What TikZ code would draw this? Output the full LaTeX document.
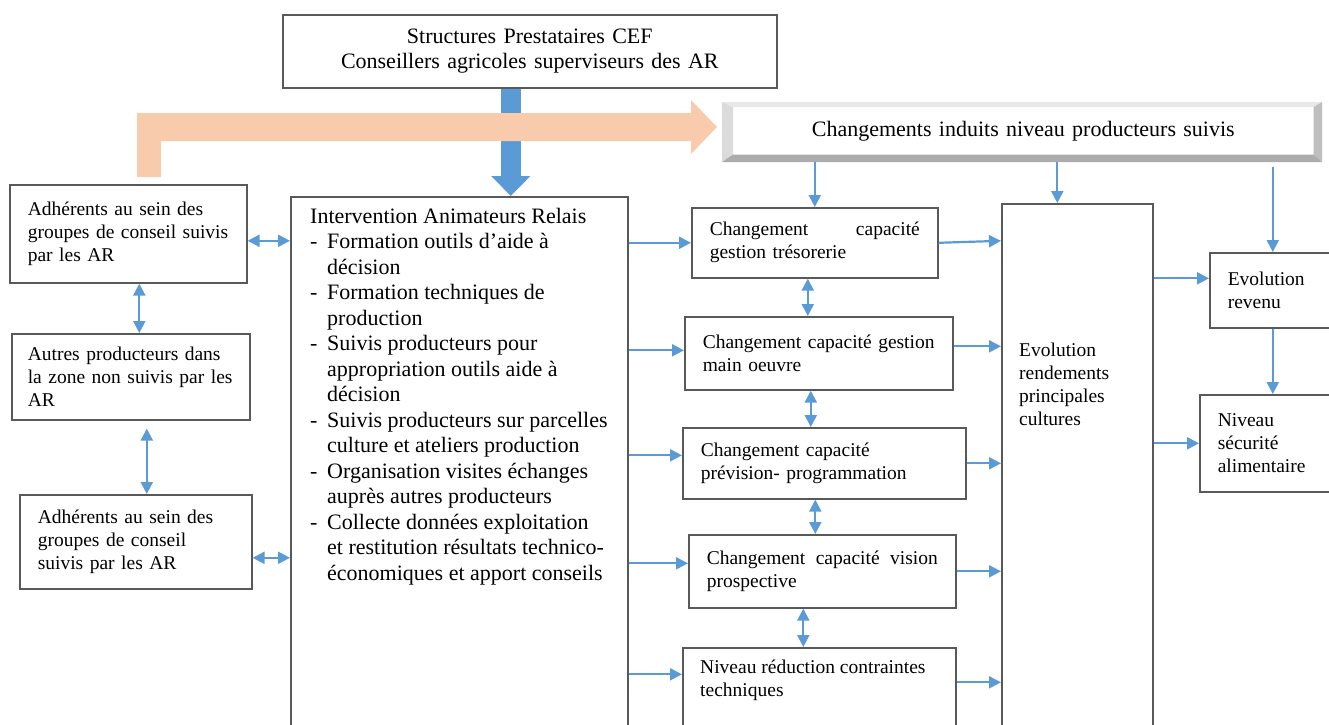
\documentclass[tikz,border=0pt]{standalone}
\usepackage{fontspec}
\setmainfont{Liberation Serif}
\usetikzlibrary{positioning, arrows.meta}
\definecolor{arrowblue}{HTML}{5B9BD5}
\definecolor{bandorange}{HTML}{F8CBAD}
\tikzset{
box/.style={draw=black!65, line width=1.6pt, anchor=north west, inner xsep=18pt, inner ysep=0pt, align=left, font=\fontsize{19.5}{23}\selectfont},
bigbox/.style={box, font=\fontsize{22}{25.5}\selectfont},
plain/.style={anchor=north west, inner sep=0pt, align=left, font=\fontsize{19.5}{23}\selectfont},
link/.style={draw=arrowblue, line width=2.2pt, -{Triangle[length=12pt,width=12pt]}},
twoway/.style={link, {Triangle[length=12pt,width=12pt]}-{Triangle[length=12pt,width=12pt]}},
bigarrow/.style={draw=arrowblue, line width=20pt, -{Triangle[length=20pt,width=38pt]}},
band/.style={fill=bandorange},
}

\begin{document}
\begin{tikzpicture}[x=1pt, y=-1pt]
    \useasboundingbox (0,0) rectangle (1329,724);
    \clip (0,0) rectangle (1329,724);

    %boxes at the top
    \node[bigbox, text width=458pt, minimum height=73pt, align=center] (prest) at (282,14) {Structures Prestataires CEF\\Conseillers agricoles superviseurs des AR};
    \node[bigbox, draw=none, fill=white, text width=543pt, minimum height=46pt, align=center] (chg) at (733,107) {Changements induits niveau producteurs suivis};
    \coordinate (chgNW) at (722,102);
    \coordinate (chgNE) at (1322,102);
    \coordinate (chgSE) at (1322,162);
    \coordinate (chgSW) at (722,162);
    \fill[gray!18] (chgNW)--(chgNE)--(chg.north east)--(chg.north west)--cycle;
    \fill[gray!28] (chgNW)--(chg.north west)--(chg.south west)--(chgSW)--cycle;
    \fill[gray!50] (chgNE)--(chgSE)--(chg.south east)--(chg.north east)--cycle;
    \fill[gray!65] (chgSW)--(chg.south west)--(chg.south east)--(chgSE)--cycle;

    %producers on the left
    \node[box, text width=201pt, minimum height=98pt] (adh1) at (9,184) {Adhérents au sein des\\groupes de conseil suivis\\par les AR};
    \node[box, inner xsep=16pt, text width=206pt, minimum height=86pt] (autres) at (11,333) {Autres producteurs dans\\la zone non suivis par les\\AR};
    \node[box, text width=196pt, minimum height=94pt] (adh2) at (19,494) {Adhérents au sein des\\groupes de conseil\\suivis par les AR};

    %intervention
    \node[box, minimum width=337pt, minimum height=534pt] (interv) at (290,196) {};
    \node[plain, font=\fontsize{22}{25.5}\selectfont] (intervtext) at (310,205) {%
    \begin{tabular}{@{}p{17pt}@{}l@{}}
    \multicolumn{2}{@{}l@{}}{Intervention Animateurs Relais}\\
    - & Formation outils d’aide à\\
      & décision\\
    - & Formation techniques de\\
      & production\\
    - & Suivis producteurs pour\\
      & appropriation outils aide à\\
      & décision\\
    - & Suivis producteurs sur parcelles\\
      & culture et ateliers production\\
    - & Organisation visites échanges\\
      & auprès autres producteurs\\
    - & Collecte données exploitation\\
      & et restitution résultats technico-\\
      & économiques et apport conseils
    \end{tabular}};

    %changes in the middle
    \node[box, text width=210pt, minimum height=70pt] (treso) at (691,207) {Changement\hfill capacité\\gestion trésorerie};
    \node[box, text width=232pt, minimum height=73pt] (mo) at (684,316) {Changement capacité gestion\\main oeuvre};
    \node[box, text width=247pt, minimum height=71pt] (prev) at (682,427) {Changement capacité\\prévision- programmation};
    \node[box, text width=231pt, minimum height=73pt] (vision) at (688,534) {Changement\hfill capacité\hfill vision\\prospective};
    \node[box, minimum width=273pt, minimum height=83pt] (contr) at (682,647) {};
    \node[plain] (contrtext) at (700,660) {Niveau réduction contraintes\\techniques};

    %results on the right
    \node[box, minimum width=151pt, minimum height=527pt] (rdt) at (1001,203) {};
    \node[plain] (rdttext) at (1019,343) {Evolution\\rendements\\principales\\cultures};
    \node[box, text width=90pt, minimum height=75pt] (revenu) at (1209,252) {Evolution\\revenu};
    \node[box, text width=100pt, minimum height=97pt] (secu) at (1199,394) {Niveau\\sécurité\\alimentaire};

    %thick arrows
    \draw[bigarrow] ([xshift=-19pt]prest.south)--([xshift=-19pt]prest.south |- interv.north);
    \fill[band] (137,177)--(137,113)--(691,113)--(691,100)--(717,127)--(691,154)--(691,141)--(161,141)--(161,177)--cycle;

    %from the bevelled box
    \draw[link] (treso.north |- chgSW)--(treso.north);
    \draw[link] ([xshift=-20pt]rdt.north |- chgSW)--([xshift=-20pt]rdt.north);
    \draw[link] ([yshift=-5pt]revenu.north |- chgSE)--(revenu.north);

    %left side
    \draw[twoway] ([yshift=-7pt]adh1.east)--([yshift=-7pt]adh1.east -| interv.west);
    \draw[twoway] ([yshift=-16pt]adh2.east)--([yshift=-16pt]adh2.east -| interv.west);
    \draw[twoway] ([xshift=11pt]adh1.south)--([xshift=11pt]adh1.south |- autres.north);
    \draw[twoway] ([xshift=16pt, yshift=-8pt]autres.south)--([xshift=16pt]autres.south |- adh2.north);

    %intervention to changes
    \draw[link] (interv.east |- treso.west)--(treso.west);
    \draw[link] ([yshift=3pt]interv.east |- mo.west)--([yshift=3pt]mo.west);
    \draw[link] ([yshift=8pt]interv.east |- prev.west)--([yshift=8pt]prev.west);
    \draw[link] ([yshift=8pt]interv.east |- vision.west)--([yshift=8pt]vision.west);
    \draw[link] ([yshift=15pt]interv.east |- contr.west)--([yshift=15pt]contr.west);

    % vertical links between changes
    \draw[twoway] ([xshift=-7pt]treso.south)--([xshift=-7pt]treso.south |- mo.north);
    \draw[twoway] ([xshift=-8pt]mo.south)--([xshift=-8pt]mo.south |- prev.north);
    \draw[twoway] ([xshift=-9pt]prev.south)--([xshift=-9pt]prev.south |- vision.north);
    \draw[twoway] ([xshift=-19pt]vision.south)--([xshift=-19pt]vision.south |- contr.north);

    %changes to yields
    \draw[link] (treso.east)--([yshift=2pt]treso.east -| rdt.west);
    \draw[link] ([yshift=7pt]mo.east)--([yshift=7pt]mo.east -| rdt.west);
    \draw[link] (prev.east)--(prev.east -| rdt.west);
    \draw[link] (vision.east)--(vision.east -| rdt.west);
    \draw[link] ([yshift=7pt]contr.east)--([yshift=7pt]contr.east -| rdt.west);

    %yields to income and food security
    \draw[link] ([yshift=12pt]rdt.east |- revenu.west)--([yshift=12pt]revenu.west);
    \draw[link] (rdt.east |- secu.west)--(secu.west);
    \draw[link] (revenu.south)--(revenu.south |- secu.north);
\end{tikzpicture}
\end{document}
